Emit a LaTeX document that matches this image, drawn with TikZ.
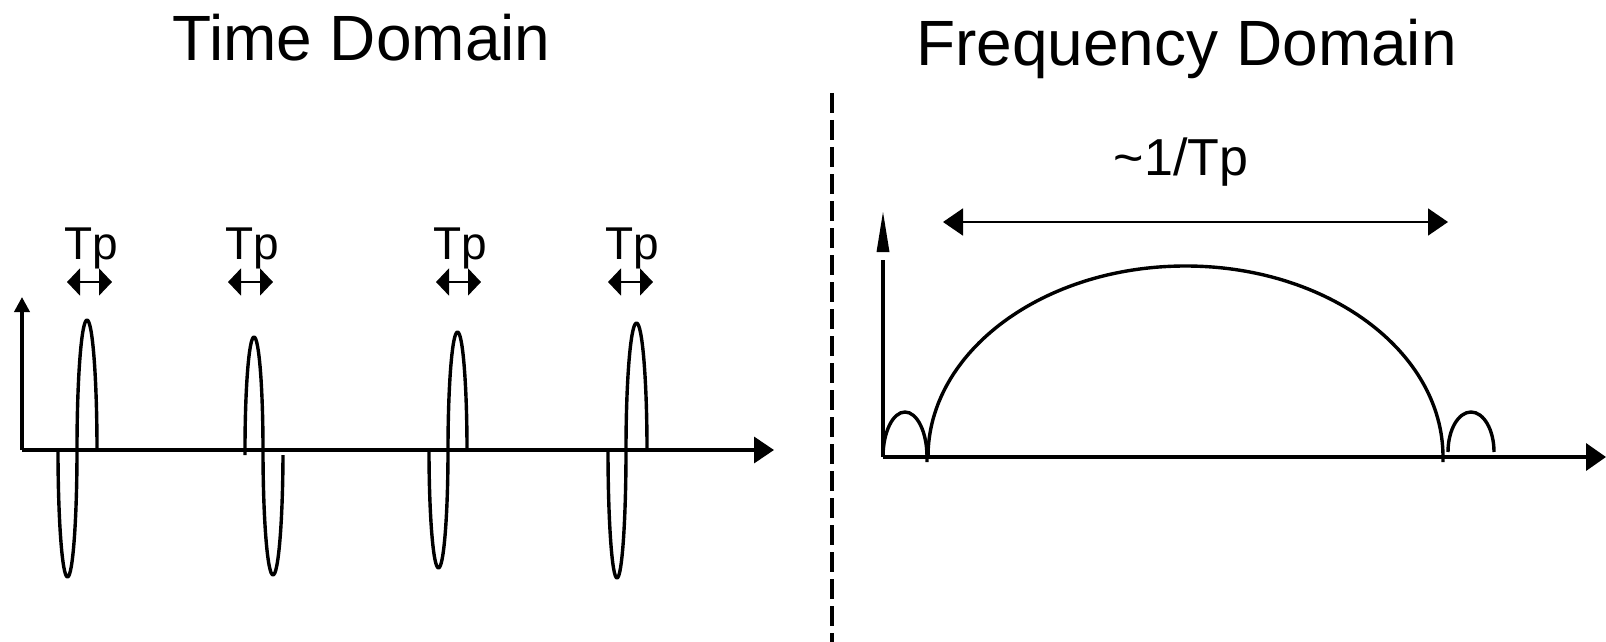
\documentclass[tikz,border=0pt]{standalone}
\usepackage{fontspec}
\setmainfont{Liberation Sans}
\usepackage{tikz}
\usetikzlibrary{arrows.meta, positioning}

\begin{document}
\begin{tikzpicture}[
  x=0.5pt, y=-0.5pt,
  title/.style={anchor=base, inner sep=0pt, font=\fontsize{32}{38}\selectfont},
  lbl/.style={anchor=base, inner sep=0pt, font=\fontsize{23}{28}\selectfont},
  curve/.style={line width=1.7pt, line join=round},
  axis/.style={line width=1.8pt},
  dim/.style={line width=0.9pt},
  tphead/.style={{Triangle[length=6.5pt, width=13.5pt]}-{Triangle[length=6.5pt, width=13.5pt]}},
  bwhead/.style={{Triangle[length=10pt, width=13.5pt]}-{Triangle[length=10pt, width=13.5pt]}}
]
\useasboundingbox (0,0) rectangle (1606,642);

\node[title] (ttime) at (361.5,61) {Time Domain};
\node[title] (tfreq) at (1186.5,66) {Frequency Domain};

% split between the two halves
\draw[line width=1.6pt, dash pattern=on 10pt off 3.5pt] (832,93) -- (832,642);

% time domain axes
\coordinate (to) at (22,450);
\coordinate (tx) at (774,450);
\coordinate (ty) at (22,297);
\draw[axis, -{Triangle[length=7.5pt, width=7.5pt]}] (to) -- (ty);
\draw[axis, -{Triangle[length=10pt, width=13pt]}] (to) -- (tx);

% pulses, negative lobe first
\foreach \xs/\wn/\dn/\wp/\up in {58/9.5/127/10/130, 429/9.5/118/9.5/118, 608/9/128/10.5/127}
  \draw[curve] (\xs,450) arc[start angle=180, end angle=0, x radius=\wn, y radius=\dn]
                         arc[start angle=180, end angle=360, x radius=\wp, y radius=\up];
% the second one starts upwards
\draw[curve] (245,455) -- (245,450) arc[start angle=180, end angle=360, x radius=9, y radius=113]
                                    arc[start angle=180, end angle=2.3, x radius=10, y radius=125];

% pulse widths
\foreach \i/\xt/\xa in {1/91.5/89.5, 2/252/250.5, 3/460/458.5, 4/632/630.5} {
  \node[lbl] (tp\i) at (\xt,259) {Tp};
  \coordinate (tpl\i) at (\xa-22.5,282);
  \coordinate (tpr\i) at (\xa+22.5,282);
  \draw[dim, tphead] (tpl\i) -- (tpr\i);
}

% frequency domain axes
\coordinate (fo) at (883,457);
\coordinate (fx) at (1606,457);
\coordinate (fy) at (883,260);
\draw[axis, -{Triangle[length=10pt, width=13.5pt]}] (fo) -- (fx);
\draw[axis] (fo) -- (fy);
\fill (883,212) -- (876.5,252) -- (889.5,252) -- cycle;

% spectrum: main lobe and side lobes
\draw[curve] (fo) arc[start angle=180, end angle=360, x radius=22, y radius=45] -- (927,462);
\draw[curve] (928,457) arc[start angle=180, end angle=360, x radius=257.5, y radius=191] -- (1443,462);
\draw[curve] (1448,452) arc[start angle=180, end angle=360, x radius=23, y radius=40];

% bandwidth
\node[anchor=base, inner sep=0pt, font=\fontsize{26}{31}\selectfont] (bw) at (1181,176) {\textasciitilde1/Tp};
\coordinate (bwl) at (943,222);
\coordinate (bwr) at (1448,222);
\draw[dim, bwhead] (bwl) -- (bwr);
\end{tikzpicture}
\end{document}
